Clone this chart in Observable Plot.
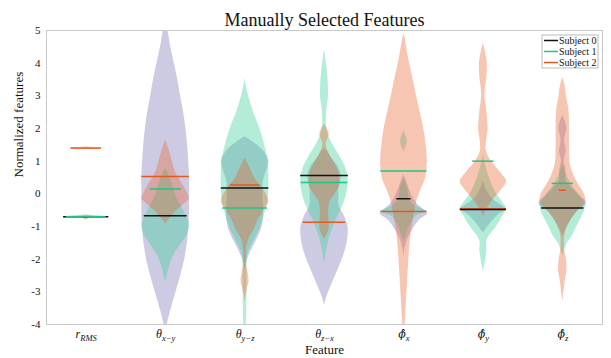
<!DOCTYPE html>
<html>
<head>
<meta charset="utf-8">
<script src="https://cdn.jsdelivr.net/npm/d3@7"></script>
<script src="https://cdn.jsdelivr.net/npm/@observablehq/plot@0.6"></script>
<style>
  body { margin: 0; background: #fff; }
  #chart svg { display: block; }
</style>
</head>
<body>
<div id="chart"></div>
<script>
// ---------- data ----------
const tickLabels = ["r_RMS", "θ_x−y", "θ_y−z", "θ_z−x", "ϕ\u0302_x", "ϕ\u0302_y", "ϕ\u0302_z"];
const subjects = ["Subject 0", "Subject 1", "Subject 2"];
const yTicks = [-4, -3, -2, -1, 0, 1, 2, 3, 4, 5];

// violin profiles: [value, relative density] per feature
const profiles0 = [
  [[-0.64,0],[-0.68,0.5],[-0.70,0.95],[-0.72,0.5],[-0.76,0]],
  [[5.3,0],[5.06,0.08],[4.55,0.2],[4.04,0.35],[3.53,0.5],[3.02,0.62],[2.51,0.75],[2.0,0.85],[1.49,0.92],[0.98,0.97],[0.47,1.0],[-0.04,1.0],[-0.55,1.0],[-1.06,0.97],[-1.57,0.9],[-2.08,0.78],[-2.59,0.6],[-3.1,0.4],[-3.61,0.2],[-4.0,0.07],[-4.3,0]],
  [[1.75,0],[1.5,0.5],[1.2,0.88],[0.98,1.0],[0.7,0.9],[0.3,0.75],[-0.1,0.75],[-0.6,0.78],[-1.0,0.72],[-1.4,0.5],[-1.8,0.22],[-2.1,0.06],[-2.3,0]],
  [[1.4,0],[1.1,0.3],[0.8,0.6],[0.5,0.7],[0.1,0.6],[-0.3,0.6],[-0.7,0.85],[-1.1,1.0],[-1.5,0.95],[-1.9,0.8],[-2.3,0.58],[-2.7,0.35],[-3.0,0.18],[-3.2,0.08],[-3.42,0]],
  [[0.6,0],[0.3,0.15],[0.0,0.3],[-0.3,0.55],[-0.5,0.85],[-0.62,1.0],[-0.75,0.75],[-1.06,0.4],[-1.4,0.15],[-1.9,0]],
  [[0.4,0],[0.1,0.15],[-0.2,0.45],[-0.4,0.85],[-0.47,0.97],[-0.6,0.7],[-0.9,0.3],[-1.1,0.1],[-1.2,0]],
  [[2.4,0],[2.0,0.17],[1.65,0.07],[1.3,0.14],[1.0,0.06],[0.67,0.14],[0.45,0.12],[0.2,0.35],[-0.05,0.7],[-0.3,1.0],[-0.55,0.6],[-0.85,0.3],[-1.1,0.12],[-1.3,0]]
];
const profiles1 = [
  [[-0.66,0],[-0.69,0.5],[-0.70,0.95],[-0.71,0.5],[-0.74,0]],
  [[0.8,0],[0.47,0.2],[-0.04,0.42],[-0.45,0.7],[-0.75,0.9],[-0.96,1.0],[-1.26,0.9],[-1.57,0.62],[-1.87,0.35],[-2.18,0.18],[-2.49,0.07],[-2.7,0]],
  [[3.55,0],[3.3,0.05],[3.02,0.14],[2.51,0.35],[2.0,0.62],[1.49,0.83],[0.98,0.97],[0.47,1.0],[-0.04,0.98],[-0.55,0.85],[-1.06,0.62],[-1.57,0.28],[-1.87,0.11],[-2.3,0.08],[-3.0,0.08],[-3.6,0.07],[-4.0,0.05],[-4.3,0]],
  [[4.42,0],[4.0,0.08],[3.5,0.15],[3.02,0.17],[2.6,0.1],[2.2,0.07],[1.9,0.12],[1.5,0.35],[1.18,0.62],[0.78,0.9],[0.37,1.0],[-0.04,0.92],[-0.45,0.72],[-0.85,0.45],[-1.26,0.25],[-1.6,0.12],[-1.9,0.05],[-2.15,0]],
  [[1.92,0],[1.59,0.14],[1.25,0],[0.5,0],[0.3,0.1],[0.1,0.17],[-0.1,0.2],[-0.3,0.35],[-0.45,0.75],[-0.53,0.97],[-0.65,0.6],[-0.9,0.3],[-1.2,0.12],[-1.45,0]],
  [[1.2,0],[0.8,0.12],[0.4,0.3],[0.0,0.55],[-0.25,0.8],[-0.45,0.97],[-0.7,0.8],[-1.06,0.5],[-1.35,0.2],[-1.5,0.13],[-1.7,0.15],[-2.0,0.1],[-2.2,0.05],[-2.4,0]],
  [[0.9,0],[0.5,0.2],[0.2,0.45],[-0.1,0.75],[-0.35,0.95],[-0.55,0.9],[-0.76,0.76],[-1.06,0.55],[-1.27,0.42],[-1.5,0.2],[-1.67,0.1],[-1.9,0]]
];
const profiles2 = [
  [[1.44,0],[1.41,0.5],[1.40,1.0],[1.39,0.5],[1.36,0],[-0.70,0],[-0.74,0.1],[-0.76,0.11],[-0.8,0]],
  [[1.66,0],[1.4,0.12],[0.98,0.28],[0.6,0.45],[0.3,0.7],[0.0,0.92],[-0.14,1.0],[-0.3,0.8],[-0.55,0.42],[-0.76,0.17],[-0.92,0]],
  [[1.1,0],[0.8,0.2],[0.47,0.42],[0.2,0.7],[-0.1,0.95],[-0.25,1.0],[-0.5,0.8],[-0.8,0.55],[-1.06,0.4],[-1.4,0.15],[-1.7,0.06],[-2.1,0.05],[-2.4,0.12],[-2.65,0.17],[-2.9,0.1],[-3.1,0.04],[-3.3,0]],
  [[2.12,0],[1.95,0.15],[1.8,0.2],[1.65,0.12],[1.5,0.07],[1.2,0.22],[0.9,0.45],[0.6,0.62],[0.3,0.65],[0.0,0.45],[-0.3,0.2],[-0.6,0.17],[-0.9,0.2],[-1.1,0.18],[-1.3,0.07],[-1.4,0]],
  [[4.92,0],[4.55,0.1],[4.04,0.22],[3.53,0.38],[3.02,0.52],[2.51,0.68],[2.0,0.83],[1.49,0.93],[0.98,0.98],[0.5,0.92],[0.1,0.7],[-0.2,0.55],[-0.55,0.45],[-1.06,0.33],[-1.57,0.25],[-2.08,0.2],[-2.59,0.16],[-3.1,0.12],[-3.61,0.08],[-4.0,0.05],[-4.3,0]],
  [[4.62,0],[4.3,0.1],[3.9,0.17],[3.6,0.15],[3.02,0.07],[2.5,0.15],[2.0,0.2],[1.7,0.15],[1.39,0.11],[0.98,0.35],[0.67,0.7],[0.37,0.97],[0.06,0.7],[-0.25,0.35],[-0.5,0.12],[-0.7,0]],
  [[3.55,0],[3.3,0.1],[3.02,0.15],[2.6,0.25],[2.2,0.28],[1.8,0.28],[1.4,0.28],[1.0,0.3],[0.6,0.45],[0.3,0.65],[0.0,0.9],[-0.25,0.97],[-0.5,0.65],[-0.8,0.35],[-1.1,0.15],[-1.4,0.07],[-1.7,0.08],[-2.0,0.15],[-2.3,0.18],[-2.6,0.12],[-3.0,0.05],[-3.3,0]]
];

// medians and the density at the median (line half-length)
const median0 = [-0.70, -0.67, 0.18, 0.56, -0.15, -0.48, -0.43];
const medianDensity0 = [0.95, 0.9, 1.0, 1.0, 0.3, 0.97, 0.89];
const median1 = [-0.70, 0.15, -0.43, 0.35, 0.70, 1.00, 0.32];
const medianDensity1 = [0.83, 0.65, 0.94, 0.97, 0.97, 0.45, 0.45];
const median2 = [1.40, 0.53, 0.27, -0.87, -0.54, -0.46, 0.11];
const medianDensity2 = [0.64, 1.0, 0.62, 0.9, 0.97, 0.97, 0.14];

// ---------- styles ----------
const fillColors = ["#7570b3", "#2ecc8f", "#e8602c"];
const lineColors = ["#111111", "#22c483", "#e5581f"];
const HALF = 0.30; // max half-width of a violin, in category units
const FONT = "'Liberation Serif', 'DejaVu Serif', serif";

// ---------- build tables ----------
const allProfiles = [profiles0, profiles1, profiles2];
const violinRows = [];
allProfiles.forEach((prof, s) => prof.forEach((pts, f) => {
  const sorted = pts.slice().sort((a, b) => a[0] - b[0]);
  sorted.forEach(([v, d]) => violinRows.push({s, f, v, d}));
}));
const medians = [median0, median1, median2];
const medianDens = [medianDensity0, medianDensity1, medianDensity2];
const medianRows = [];
[2, 0, 1].forEach(s => medians[s].forEach((m, f) => medianRows.push({s, f, m, d: medianDens[s][f]})));

const marks = [];
[0, 1, 2].forEach(s => {
  marks.push(Plot.areaX(violinRows.filter(r => r.s === s), {
    y: "v",
    x1: r => r.f - HALF * r.d,
    x2: r => r.f + HALF * r.d,
    z: "f",
    fill: fillColors[s],
    fillOpacity: 0.36,
    curve: "monotone-y",
    clip: true
  }));
});
marks.push(Plot.ruleY(medianRows, {
  y: "m",
  x1: r => r.f - HALF * r.d,
  x2: r => r.f + HALF * r.d,
  stroke: r => lineColors[r.s],
  strokeWidth: 1.5
}));
marks.push(Plot.frame({stroke: "#c9c9c9"}));
marks.push(Plot.axisY(yTicks, {tickSize: 0, tickPadding: 6, tickFormat: d => String(d), fontSize: 11, label: null}));
marks.push(Plot.axisX(d3.range(tickLabels.length), {tickSize: 0, tickPadding: 5, tickFormat: i => tickLabels[i], fontSize: 12, label: null}));
marks.push(Plot.text(["Feature"], {frameAnchor: "bottom", dy: 29, fontSize: 13, fill: "#111"}));
marks.push(Plot.text(["Normalized features"], {frameAnchor: "left", dx: -28, rotate: -90, fontSize: 13, fill: "#111"}));
marks.push(Plot.text(["Manually Selected Features"], {frameAnchor: "top", dy: -17, fontSize: 18, fill: "#111"}));

const chart = Plot.plot({
  width: 611,
  height: 358,
  marginLeft: 46,
  marginRight: 9,
  marginTop: 30,
  marginBottom: 34,
  style: {fontFamily: FONT, background: "#fff", color: "#111", overflow: "visible"},
  x: {type: "linear", domain: [-0.5, 6.5], axis: null},
  y: {domain: [-4, 5], axis: null},
  marks
});
document.getElementById("chart").appendChild(chart);

// ---------- math-style tick labels ----------
const svg = d3.select(chart);
svg.selectAll('g[aria-label="axis tick label"] text, g[aria-label="x-axis tick label"] text').each(function() {
  const t = d3.select(this);
  const s = t.text();
  if (!s.includes("_")) return;
  const [base, sub] = s.split("_");
  const hat = base.includes("\u0302");
  t.text(null).style("font-style", "italic");
  const b = t.append("tspan").text(base);
  if (hat) b.attr("font-family", "'DejaVu Serif'").attr("font-size", 11);
  t.append("tspan").attr("dy", "0.3em").attr("font-size", 8.5).text(sub);
});

// ---------- legend ----------
const lg = svg.append("g").attr("font-family", FONT).attr("font-size", 10).attr("text-anchor", "start");
lg.append("rect").attr("x", 542).attr("y", 35).attr("width", 56).attr("height", 33)
  .attr("fill", "#fff").attr("stroke", "#aaa").attr("stroke-width", 0.8);
subjects.forEach((name, i) => {
  const y = 40.5 + i * 11;
  lg.append("line").attr("x1", 544).attr("x2", 558).attr("y1", y).attr("y2", y)
    .attr("stroke", lineColors[i]).attr("stroke-width", 1.5);
  lg.append("text").attr("x", 559).attr("y", y).attr("dy", "0.35em").attr("fill", "#111").text(name);
});
</script>
</body>
</html>
